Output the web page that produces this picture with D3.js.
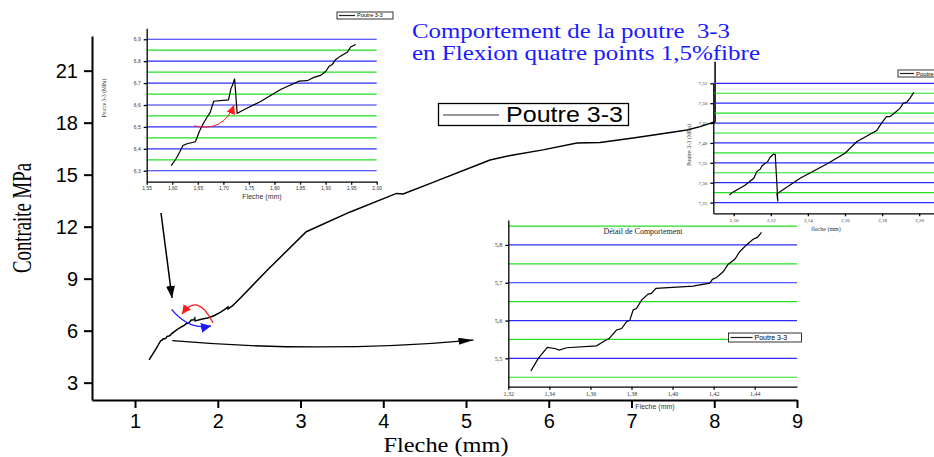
<!DOCTYPE html>
<html>
<head>
<meta charset="utf-8">
<script src="https://cdn.jsdelivr.net/npm/d3@7"></script>
<style>
body { margin: 0; background: #fff; }
svg { display: block; }
.serif { font-family: "Liberation Serif", "Times New Roman", serif; }
.sans { font-family: "Liberation Sans", Arial, sans-serif; }
.title { white-space: pre; }
</style>
</head>
<body>
<script>
(function(){
    //main curve: fleche (mm) vs contrainte (MPa)
    var mainX = [1.17, 1.25, 1.31, 1.331, 1.339, 1.349, 1.363, 1.375, 1.388, 1.41, 1.425, 1.443, 1.52,
        1.598, 1.621, 1.645, 1.668, 1.681, 1.71, 1.722, 1.727, 1.812, 1.877, 1.913, 1.959, 2.03,
        2.098, 2.118, 2.122, 2.124, 2.15, 2.177, 2.197, 2.27, 2.6, 3.07, 3.6, 4.16, 4.24, 4.57,
        5.29, 5.57, 5.93, 6.34, 6.62, 7.02, 7.43, 7.67, 7.83, 8.01, 8.01];
    var mainY = [4.31, 4.92, 5.42, 5.467, 5.529, 5.528, 5.533, 5.579, 5.67, 5.691, 5.73, 5.833, 6.1,
        6.323, 6.415, 6.432, 6.544, 6.617, 6.623, 6.72, 6.562, 6.671, 6.726, 6.785, 6.876, 7.05,
        7.269, 7.353, 7.371, 7.253, 7.347, 7.431, 7.527, 7.87, 9.5, 11.71, 12.85, 13.92, 13.89, 14.5,
        15.85, 16.14, 16.43, 16.83, 16.85, 17.12, 17.41, 17.58, 17.77, 18.06, 21.52];

    //inset 1 (top left) 1.55 - 2.00 mm
    var insetAX = [1.598, 1.606, 1.61, 1.615, 1.621, 1.629, 1.645, 1.648, 1.653, 1.661, 1.668, 1.674,
        1.681, 1.71, 1.715, 1.718, 1.722, 1.727, 1.746, 1.772, 1.812, 1.848, 1.864, 1.877, 1.89,
        1.9, 1.907, 1.913, 1.92, 1.929, 1.943, 1.949, 1.959];
    var insetAY = [6.323, 6.35, 6.365, 6.388, 6.415, 6.423, 6.432, 6.448, 6.479, 6.517, 6.544, 6.565,
        6.617, 6.623, 6.676, 6.691, 6.72, 6.562, 6.585, 6.615, 6.671, 6.709, 6.711, 6.726, 6.735,
        6.753, 6.777, 6.785, 6.808, 6.823, 6.842, 6.865, 6.876];

    //inset 2 (detail) 1.32 - 1.46 mm
    var insetBX = [1.331, 1.3346, 1.339, 1.3427, 1.3448, 1.3484, 1.363, 1.3662, 1.3692, 1.3727, 1.3752,
        1.3776, 1.3792, 1.3808, 1.3824, 1.3849, 1.3881, 1.3897, 1.3919, 1.41, 1.4181, 1.4194, 1.4214,
        1.4246, 1.4271, 1.4303, 1.4327, 1.436, 1.4392, 1.4413, 1.4433];
    var insetBY = [5.467, 5.5, 5.529, 5.526, 5.522, 5.528, 5.533, 5.544, 5.553, 5.575, 5.579,
        5.597, 5.601, 5.628, 5.632, 5.654, 5.67, 5.672, 5.685, 5.691, 5.699, 5.709, 5.714,
        5.729, 5.749, 5.762, 5.782, 5.8, 5.815, 5.82, 5.833];

    //inset 3 (top right) 2.09 - 2.21 mm
    var insetCX = [2.0978, 2.0991, 2.1063, 2.1108, 2.1125, 2.1143, 2.1152, 2.1165, 2.1183, 2.1197,
        2.1215, 2.1224, 2.1238, 2.1233, 2.1358, 2.1502, 2.16, 2.1663, 2.1771, 2.1797, 2.1824, 2.1842,
        2.1869, 2.1896, 2.1914, 2.1932, 2.195, 2.1971];
    var insetCY = [7.269, 7.275, 7.294, 7.311, 7.328, 7.334, 7.342, 7.347, 7.353, 7.364,
        7.372, 7.371, 7.253, 7.272, 7.311, 7.347, 7.374, 7.403, 7.431, 7.45, 7.466, 7.466,
        7.476, 7.487, 7.5, 7.502, 7.512, 7.527];

    //tick values
    var mainXTicks = [1, 2, 3, 4, 5, 6, 7, 8, 9];
    var mainYTicks = [3, 6, 9, 12, 15, 18, 21];
    var insetAXTicks = [1.55, 1.60, 1.65, 1.70, 1.75, 1.80, 1.85, 1.90, 1.95, 2.00];
    var insetAYTicks = [6.3, 6.4, 6.5, 6.6, 6.7, 6.8, 6.9];
    var insetBXTicks = [1.32, 1.34, 1.36, 1.38, 1.40, 1.42, 1.44];
    var insetBYTicks = [5.5, 5.6, 5.7, 5.8];
    var insetCXTicks = [2.10, 2.12, 2.14, 2.16, 2.18, 2.20];
    var insetCYTicks = [7.25, 7.30, 7.35, 7.40, 7.45, 7.50, 7.55];

    //texts
    var titleLines = ["Comportement de la poutre  3-3", "en Flexion quatre points 1,5%fibre"];
    var seriesName = "Poutre 3-3";

    var width = 934, height = 457;
    var blue = "#2b2bff", green = "#22e022";

    var svg = d3.select("body").append("svg")
        .attr("width", width)
        .attr("height", height);

    svg.append("rect").attr("width", width).attr("height", height).attr("fill", "#fff");

    //arrow markers
    var defs = svg.append("defs");
    function marker(id, color, len, half){
        defs.append("marker")
            .attr("id", id)
            .attr("markerUnits", "userSpaceOnUse")
            .attr("viewBox", "0 " + (-half) + " " + len + " " + (half * 2))
            .attr("refX", len).attr("refY", 0)
            .attr("markerWidth", len).attr("markerHeight", half * 2)
            .attr("orient", "auto")
            .append("path")
            .attr("d", "M0," + (-half) + "L" + len + ",0L0," + half + "Z")
            .attr("fill", color);
    }
    marker("arrBlack", "#000", 12, 4.5);
    marker("arrLong", "#000", 15, 3.5);
    marker("arrRed", "#ff1a1a", 9, 4.5);
    marker("arrBlue", "#1a1aff", 10, 5);

    var fmt = function(n){ return function(d){ return d.toFixed(n).replace(".", ","); }; };

    //---------- main chart ----------
    var x = d3.scaleLinear().domain([0.48, 9]).range([92, 797]);
    var y = d3.scaleLinear().domain([2, 23]).range([400, 36]);

    var xMinor = d3.range(0.5, 9, 1), yMinor = d3.range(4.5, 23, 3);

    var gx = svg.append("g").attr("transform", "translate(0,400)");
    gx.call(d3.axisBottom(x).tickValues(xMinor).tickSize(5).tickSizeOuter(0).tickFormat(""));
    gx.call(d3.axisBottom(x).tickValues(mainXTicks).tickSize(8).tickSizeOuter(0).tickPadding(6));
    var gy = svg.append("g").attr("transform", "translate(92,0)");
    gy.call(d3.axisLeft(y).tickValues(yMinor).tickSize(5).tickSizeOuter(0).tickFormat(""));
    gy.call(d3.axisLeft(y).tickValues(mainYTicks).tickSize(8).tickSizeOuter(0).tickPadding(6));
    [gx, gy].forEach(function(g){
        g.selectAll("path, line").attr("stroke", "#000").attr("stroke-width", 2);
        g.selectAll("text").attr("class", "sans").attr("font-size", 20).attr("fill", "#000");
    });

    //axis titles
    svg.append("text").attr("class", "serif")
        .attr("transform", "translate(31,218) rotate(-90)")
        .attr("text-anchor", "middle").attr("font-size", 27)
        .attr("textLength", 110).attr("lengthAdjust", "spacingAndGlyphs")
        .text("Contraite MPa");
    svg.append("text").attr("class", "serif")
        .attr("x", 446).attr("y", 452).attr("text-anchor", "middle")
        .attr("font-size", 20).attr("textLength", 125).attr("lengthAdjust", "spacingAndGlyphs")
        .text("Fleche (mm)");

    //main title
    titleLines.forEach(function(t, i){
        svg.append("text").attr("class", "serif title")
            .attr("x", 412).attr("y", 38 + i * 22)
            .attr("font-size", 20).attr("fill", "#1a1aff")
            .attr("textLength", i === 0 ? 318 : 348).attr("lengthAdjust", "spacingAndGlyphs")
            .text(t);
    });

    //main legend
    var leg = svg.append("g");
    leg.append("rect").attr("x", 438.5).attr("y", 103.5).attr("width", 190).attr("height", 22)
        .attr("fill", "#fff").attr("stroke", "#000").attr("stroke-width", 1.3);
    leg.append("line").attr("x1", 443).attr("x2", 499).attr("y1", 115).attr("y2", 115)
        .attr("stroke", "#333").attr("stroke-width", 1);
    leg.append("text").attr("class", "sans").attr("x", 506).attr("y", 122)
        .attr("font-size", 22).attr("textLength", 117).attr("lengthAdjust", "spacingAndGlyphs")
        .text(seriesName);

    //main curve
    var mainLine = d3.line().x(function(d){ return x(d[0]); }).y(function(d){ return y(d[1]); });
    svg.append("path").datum(d3.zip(mainX, mainY))
        .attr("d", mainLine).attr("fill", "none")
        .attr("stroke", "#000").attr("stroke-width", 1.5);

    //annotation arrows (data units of main chart)
    function quad(p0, c, p1){
        var p = d3.path();
        p.moveTo(x(p0[0]), y(p0[1]));
        p.quadraticCurveTo(x(c[0]), y(c[1]), x(p1[0]), y(p1[1]));
        return p.toString();
    }
    svg.append("line")
        .attr("x1", x(1.314)).attr("y1", y(12.79)).attr("x2", x(1.447)).attr("y2", y(7.89))
        .attr("stroke", "#000").attr("stroke-width", 1.5).attr("marker-end", "url(#arrBlack)");
    svg.append("path").attr("d", quad([1.45, 5.42], [3.26, 4.68], [5.09, 5.46]))
        .attr("fill", "none").attr("stroke", "#000").attr("stroke-width", 1.3)
        .attr("marker-end", "url(#arrLong)");
    svg.append("path").attr("d", quad([1.943, 6.443], [1.761, 8.23], [1.568, 6.96]))
        .attr("fill", "none").attr("stroke", "#ff1a1a").attr("stroke-width", 1.3)
        .attr("marker-end", "url(#arrRed)");
    svg.append("path").attr("d", quad([1.443, 7.23], [1.648, 6.02], [1.918, 6.27]))
        .attr("fill", "none").attr("stroke", "#1a1aff").attr("stroke-width", 1.3)
        .attr("marker-end", "url(#arrBlue)");

    //---------- insets ----------
    function drawInset(o){
        var g = svg.append("g");
        var ix = d3.scaleLinear().domain(o.xDomain).range(o.xRange);
        var iy = d3.scaleLinear().domain(o.yDomain).range(o.yRange);

        //horizontal grid, alternating blue / green
        g.selectAll(".gridB").data(o.yTicks).enter().append("line")
            .attr("x1", o.xRange[0]).attr("x2", o.gridEnd)
            .attr("y1", function(d){ return iy(d); }).attr("y2", function(d){ return iy(d); })
            .attr("stroke", blue).attr("stroke-width", 1.2);
        g.selectAll(".gridG").data(o.yMinor).enter().append("line")
            .attr("x1", o.xRange[0]).attr("x2", o.gridEnd)
            .attr("y1", function(d){ return iy(d); }).attr("y2", function(d){ return iy(d); })
            .attr("stroke", green).attr("stroke-width", 1.2);

        var ax = g.append("g").attr("transform", "translate(0," + o.yRange[0] + ")");
        ax.call(d3.axisBottom(ix).tickValues(o.xMinor).tickSize(1.5).tickSizeOuter(0).tickFormat(""));
        ax.call(d3.axisBottom(ix).tickValues(o.xTicks).tickSize(3).tickSizeOuter(0)
            .tickPadding(2).tickFormat(fmt(o.xDec)));
        var ay = g.append("g").attr("transform", "translate(" + o.xRange[0] + ",0)");
        ay.call(d3.axisLeft(iy).tickValues(o.yMinor).tickSize(1.5).tickSizeOuter(0).tickFormat(""));
        ay.call(d3.axisLeft(iy).tickValues(o.yTicks).tickSize(3).tickSizeOuter(0)
            .tickPadding(3).tickFormat(fmt(o.yDec)));
        [ax, ay].forEach(function(a){
            a.selectAll("path, line").attr("stroke", "#000").attr("stroke-width", 1.3);
            a.selectAll("text").attr("class", o.tickFont).attr("font-size", o.tickSize).attr("fill", "#333");
        });

        var line = d3.line().x(function(d){ return ix(d[0]); }).y(function(d){ return iy(d[1]); });
        g.append("path").datum(d3.zip(o.xs, o.ys)).attr("d", line)
            .attr("fill", "none").attr("stroke", "#000").attr("stroke-width", 1.2);

        if (o.xLabel) {
            g.append("text").attr("class", o.xLabel.font).attr("x", o.xLabel.x).attr("y", o.xLabel.y)
                .attr("text-anchor", "middle").attr("font-size", o.xLabel.size).attr("fill", "#333")
                .text(o.xLabel.text);
        }
        if (o.yLabel) {
            g.append("text").attr("class", "serif")
                .attr("transform", "translate(" + o.yLabel.x + "," + o.yLabel.y + ") rotate(-90)")
                .attr("text-anchor", "middle").attr("font-size", o.yLabel.size).attr("fill", "#333")
                .text(o.yLabel.text);
        }
        //legend
        var l = o.legend;
        g.append("rect").attr("x", l.x).attr("y", l.y).attr("width", l.w).attr("height", l.h)
            .attr("fill", "#fff").attr("stroke", "#000").attr("stroke-width", 0.8);
        g.append("line").attr("x1", l.x + 2).attr("x2", l.x + l.line).attr("y1", l.y + l.h / 2).attr("y2", l.y + l.h / 2)
            .attr("stroke", "#222").attr("stroke-width", 1.2);
        g.append("text").attr("class", "sans").attr("x", l.x + l.line + 2).attr("y", l.y + l.h / 2 + l.size * 0.36)
            .attr("font-size", l.size).text(seriesName);
        return {g: g, x: ix, y: iy};
    }

    var insetA = drawInset({
        xDomain: [1.55, 2.00], xRange: [146.7, 376.7],
        yDomain: [6.25, 6.95], yRange: [181.7, 28.3], gridEnd: 376.7,
        xTicks: insetAXTicks, xMinor: d3.range(1.575, 2.0, 0.05), xDec: 2,
        yTicks: insetAYTicks, yMinor: d3.range(6.35, 6.9, 0.1), yDec: 1,
        tickFont: "sans", tickSize: 5,
        xs: insetAX, ys: insetAY,
        xLabel: {text: "Fleche (mm)", x: 262, y: 199, size: 7, font: "sans"},
        yLabel: {text: "Poutre 3-3 (MPa)", x: 106, y: 98, size: 5.5},
        legend: {x: 337, y: 12, w: 56, h: 7, line: 18, size: 5.5}
    });
    //red arrow inside inset 1
    var pa = d3.path();
    pa.moveTo(insetA.x(1.643), insetA.y(6.505));
    pa.quadraticCurveTo(insetA.x(1.70), insetA.y(6.475), insetA.x(1.721), insetA.y(6.60));
    insetA.g.append("path").attr("d", pa.toString()).attr("fill", "none")
        .attr("stroke", "#ff1a1a").attr("stroke-width", 1).attr("marker-end", "url(#arrRed)");

    var insetB = drawInset({
        xDomain: [1.32, 1.4606], xRange: [508.3, 797],
        yDomain: [5.425, 5.866], yRange: [386.7, 220], gridEnd: 797,
        xTicks: insetBXTicks, xMinor: d3.range(1.33, 1.46, 0.02), xDec: 2,
        yTicks: insetBYTicks, yMinor: [5.45, 5.55, 5.65, 5.75, 5.85], yDec: 1,
        tickFont: "serif", tickSize: 6,
        xs: insetBX, ys: insetBY,
        xLabel: {text: "Fleche (mm)", x: 655, y: 409, size: 7, font: "sans"},
        legend: {x: 728.5, y: 333, w: 73, h: 9, line: 24, size: 7}
    });
    insetB.g.append("text").attr("class", "serif").attr("x", 643).attr("y", 234)
        .attr("text-anchor", "middle").attr("font-size", 8).attr("fill", "#222")
        .text("Détail de Comportement");

    drawInset({
        xDomain: [2.089, 2.215], xRange: [713.3, 947],
        yDomain: [7.223, 7.55], yRange: [213.3, 83.3], gridEnd: 934,
        xTicks: insetCXTicks, xMinor: d3.range(2.09, 2.21, 0.02), xDec: 2,
        yTicks: insetCYTicks, yMinor: [7.275, 7.325, 7.375, 7.425, 7.475, 7.525], yDec: 2,
        tickFont: "serif", tickSize: 5,
        xs: insetCX, ys: insetCY,
        xLabel: {text: "fleche (mm)", x: 826, y: 231, size: 6, font: "serif"},
        yLabel: {text: "Poutre 3-3 (MPa)", x: 691, y: 145, size: 6},
        legend: {x: 898, y: 70, w: 50, h: 7, line: 16, size: 6}
    });
})();
</script>
</body>
</html>
